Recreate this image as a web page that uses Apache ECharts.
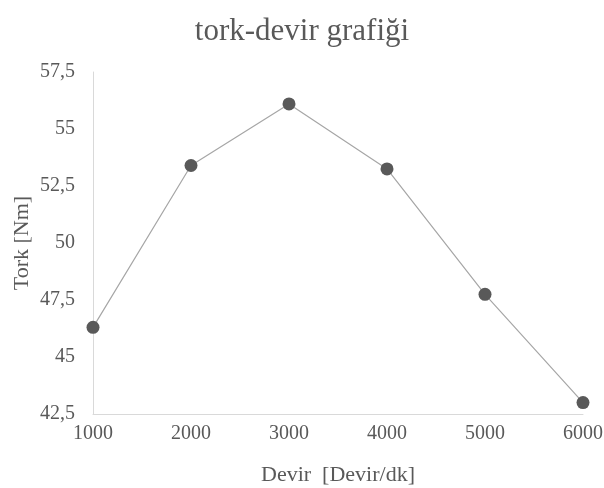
<!DOCTYPE html>
<html>
<head>
<meta charset="utf-8">
<script src="https://cdn.jsdelivr.net/npm/echarts@6/dist/echarts.min.js"></script>
<style>
  html, body { margin: 0; padding: 0; background: #fff; }
  #chart { width: 604px; height: 488px; }
</style>
</head>
<body>
<div id="chart"></div>
<script>
// Engine speed (rpm) and measured torque (Nm)
const devir = [1000, 2000, 3000, 4000, 5000, 6000];
const tork = [46.3, 53.4, 56.1, 53.25, 47.75, 43.0];

const textColor = '#595959';
const fontFamily = '"Liberation Serif", "Times New Roman", serif';

const chart = echarts.init(document.getElementById('chart'));
chart.setOption({
  backgroundColor: '#ffffff',
  animation: false,
  title: {
    text: 'tork-devir grafiği',
    left: 'center',
    top: 11,
    textStyle: { color: textColor, fontFamily: fontFamily, fontSize: 31, fontWeight: 'normal' }
  },
  grid: { left: 93, right: 21, top: 72, bottom: 74, outerBoundsMode: 'none' },
  xAxis: {
    type: 'value',
    min: 1000,
    max: 6000,
    interval: 1000,
    name: 'Devir  [Devir/dk]',
    nameLocation: 'middle',
    nameGap: 50,
    nameMoveOverlap: false,
    nameTextStyle: { color: textColor, fontFamily: fontFamily, fontSize: 22 },
    axisLine: { show: true, lineStyle: { color: '#d9d9d9', width: 1 } },
    axisTick: { show: false },
    splitLine: { show: false },
    axisLabel: {
      color: textColor, fontFamily: fontFamily, fontSize: 20, margin: 10,
      formatter: v => String(v)
    }
  },
  yAxis: {
    type: 'value',
    min: 42.5,
    max: 57.5,
    interval: 2.5,
    name: 'Tork [Nm]',
    nameLocation: 'middle',
    nameGap: 60,
    nameMoveOverlap: false,
    nameTextStyle: { color: textColor, fontFamily: fontFamily, fontSize: 22 },
    axisLine: { show: true, lineStyle: { color: '#d9d9d9', width: 1 } },
    axisTick: { show: false },
    splitLine: { show: false },
    axisLabel: {
      color: textColor, fontFamily: fontFamily, fontSize: 20, margin: 18,
      formatter: v => String(v).replace('.', ',')
    }
  },
  series: [{
    type: 'line',
    data: devir.map((d, i) => [d, tork[i]]),
    symbol: 'circle',
    symbolSize: 13,
    lineStyle: { color: '#a6a6a6', width: 1.2 },
    itemStyle: { color: '#595959' }
  }]
});
</script>
</body>
</html>
